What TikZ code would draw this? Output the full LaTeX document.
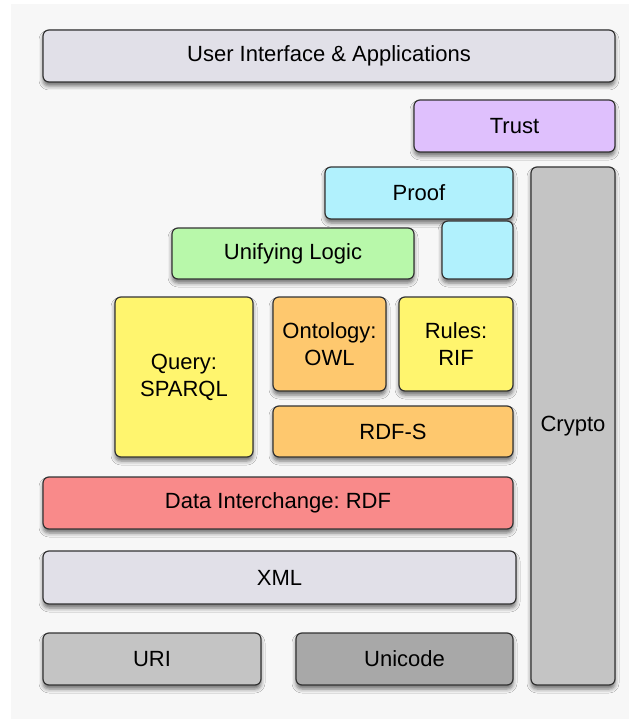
\documentclass[tikz,border=0pt]{standalone}
\usepackage{fontspec}
\setmainfont{Liberation Sans}
\usetikzlibrary{shadows.blur}
\frenchspacing

\definecolor{bgcol}{HTML}{F7F7F7}
\definecolor{uicol}{HTML}{E1E0E8}
\definecolor{trustcol}{HTML}{DFC0FD}
\definecolor{proofcol}{HTML}{B1F1FD}
\definecolor{logiccol}{HTML}{B8F8AA}
\definecolor{yellowcol}{HTML}{FFF56E}
\definecolor{orangecol}{HTML}{FEC86E}
\definecolor{rdfcol}{HTML}{F98A8A}
\definecolor{greycol}{HTML}{C4C4C4}
\definecolor{darkcol}{HTML}{A8A8A8}

\tikzset{
  layer/.style={draw=black!80, line width=1.2pt, rounded corners=6pt, inner sep=0pt,
    align=center, font=\fontsize{22}{27}\selectfont,
    blur shadow={shadow xshift=0pt, shadow yshift=-4pt, shadow blur radius=4pt, shadow opacity=55}}
}

\begin{document}
\begin{tikzpicture}[x=1pt, y=-1pt]
  \useasboundingbox (0,0) rectangle (629,719);
  \fill[bgcol] (11,4) rectangle (629,719);

  \node[layer, fill=uicol, minimum width=572pt, minimum height=52pt] (ui) at (329,56) {User Interface \& Applications};
  \node[layer, fill=trustcol, minimum width=201pt, minimum height=52pt] (trust) at (514.5,126) {Trust};
  \node[layer, fill=proofcol, minimum width=188pt, minimum height=52pt] (proof) at (419,193) {Proof};
  \node[layer, fill=proofcol, minimum width=71pt, minimum height=58pt] (proofleg) at (477.5,250) {};
  \node[layer, fill=greycol, minimum width=84pt, minimum height=518pt] (crypto) at (573,426) {Crypto};
  \node[layer, fill=logiccol, minimum width=242pt, minimum height=51pt] (logic) at (293,253.5) {Unifying Logic};

  \node[layer, fill=yellowcol, minimum width=138pt, minimum height=160pt] (query) at (184,377) {Query:\\SPARQL};
  \node[layer, fill=orangecol, minimum width=113pt, minimum height=94pt] (owl) at (329.5,344) {Ontology:\\OWL};
  \node[layer, fill=yellowcol, minimum width=114pt, minimum height=94pt] (rif) at (456,344) {Rules:\\RIF};
  \node[layer, fill=orangecol, minimum width=240pt, minimum height=51pt] (rdfs) at (393,431.5) {RDF-S};

  \node[layer, fill=rdfcol, minimum width=470pt, minimum height=52pt] (rdf) at (278,503) {Data Interchange: RDF};
  \node[layer, fill=uicol, minimum width=473pt, minimum height=53pt] (xml) at (279.5,577.5) {XML};
  \node[layer, fill=greycol, minimum width=218pt, minimum height=52pt] (uri) at (152,659) {URI};
  \node[layer, fill=darkcol, minimum width=217pt, minimum height=52pt] (unicode) at (404.5,659) {Unicode};
\end{tikzpicture}
\end{document}
